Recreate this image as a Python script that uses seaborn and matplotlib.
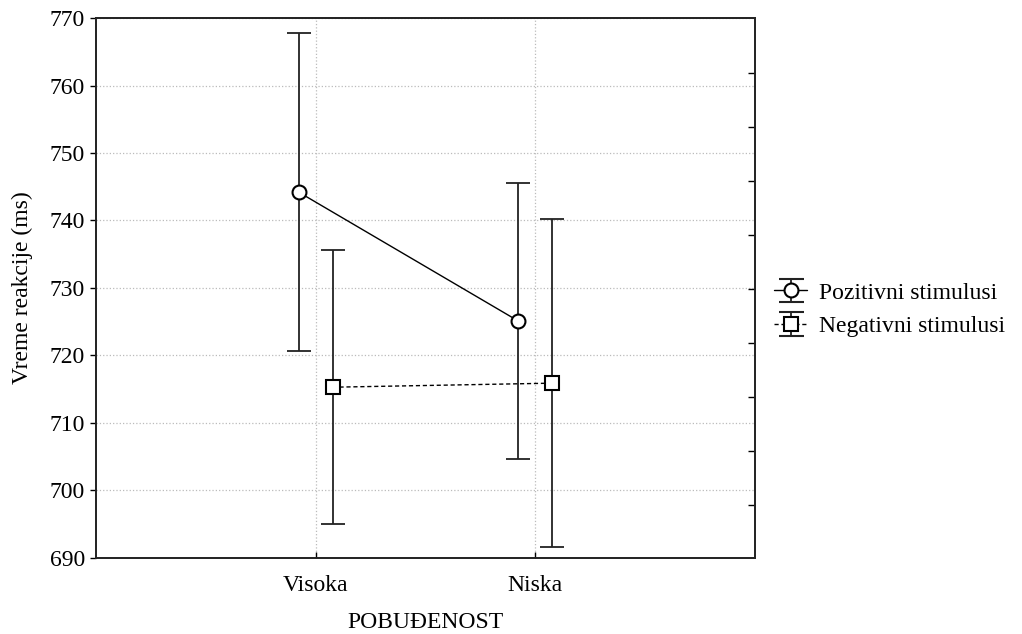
import numpy as np
import pandas as pd
import matplotlib
matplotlib.use("Agg")
import matplotlib.pyplot as plt
import seaborn as sns

# ======================================================
#   data
# ======================================================
categories = ["Visoka", "Niska"]
series = ["Pozitivni stimulusi", "Negativni stimulusi"]
poz_mean = [744.2, 725.1]
poz_err = [23.6, 20.4]
neg_mean = [715.3, 715.9]
neg_err = [20.3, 24.3]

sns.set_theme(style="white")
plt.rcParams["font.family"] = ["Liberation Serif", "DejaVu Serif"]
plt.rcParams["text.color"] = "black"
plt.rcParams["axes.labelcolor"] = "black"
plt.rcParams["xtick.color"] = "black"
plt.rcParams["ytick.color"] = "black"
FS = 17

df = pd.DataFrame({
    "cat": np.tile(np.arange(len(categories)), 2),
    "mean": poz_mean + neg_mean,
    "err": poz_err + neg_err,
    "series": np.repeat(series, len(categories)),
})
offsets = {series[0]: -0.077, series[1]: 0.077}
df["x"] = df["cat"] + df["series"].map(offsets)

fig = plt.figure(figsize=(10.22, 6.34), dpi=100)
ax = fig.add_axes([0.0939, 0.1199, 0.6448, 0.8517])

styles = {
    series[0]: dict(marker="o", ls="-"),
    series[1]: dict(marker="s", ls=(0, (3, 2))),
}

handles = []
for name in series:
    d = df[df["series"] == name]
    ax.errorbar(d["x"], d["mean"], yerr=d["err"], fmt="none",
                ecolor="#222222", elinewidth=1.3, capsize=8.3,
                capthick=1.3, zorder=2)
    sns.lineplot(x=d["x"], y=d["mean"], ax=ax, color="black",
                 linewidth=1.0, linestyle=styles[name]["ls"],
                 marker=styles[name]["marker"], markersize=10,
                 markerfacecolor="white", markeredgecolor="black",
                 markeredgewidth=1.5, legend=False, zorder=3)
    h = ax.errorbar([np.nan], [np.nan], yerr=[1], color="black",
                    ecolor="#222222", linestyle=styles[name]["ls"],
                    linewidth=1.0, marker=styles[name]["marker"],
                    markersize=10, markerfacecolor="white",
                    markeredgecolor="black", markeredgewidth=1.5,
                    elinewidth=1.3, capsize=9, capthick=1.3)
    handles.append(h)

ax.set_xlim(-1, 2)
ax.set_ylim(690, 770)
ax.set_xticks(range(len(categories)))
ax.set_xticklabels(categories)
ax.set_yticks(np.arange(690, 771, 10))

ax.grid(True, color="#bbbbbb", linestyle=":", linewidth=0.9)
ax.set_axisbelow(True)
for s in ax.spines.values():
    s.set_color("black")
    s.set_linewidth(1.2)

ax.tick_params(axis="y", which="major", direction="out", length=4,
               width=1, color="black", left=True, labelsize=FS, pad=4)
ax.tick_params(axis="x", which="major", direction="in", length=4,
               width=1, color="black", bottom=True, labelsize=FS, pad=12)

# small inward ticks on the right spine
ax_r = ax.twinx()
ax_r.set_ylim(690, 770)
ax_r.set_yticks(np.arange(697.85, 765, 8))
ax_r.set_yticklabels([])
ax_r.tick_params(axis="y", direction="in", length=5, width=1, color="black", right=True)
ax_r.grid(False)

ax.set_xlabel("POBUĐENOST", fontsize=FS, labelpad=12)
ax.set_ylabel("Vreme reakcije (ms)", fontsize=FS, labelpad=12)

ax.legend(handles, series, loc="center left", bbox_to_anchor=(1.015, 0.46),
          frameon=False, fontsize=FS, handlelength=1.4, handletextpad=0.5,
          labelspacing=0.5, borderaxespad=0)

fig.savefig("out.png", dpi=100)
